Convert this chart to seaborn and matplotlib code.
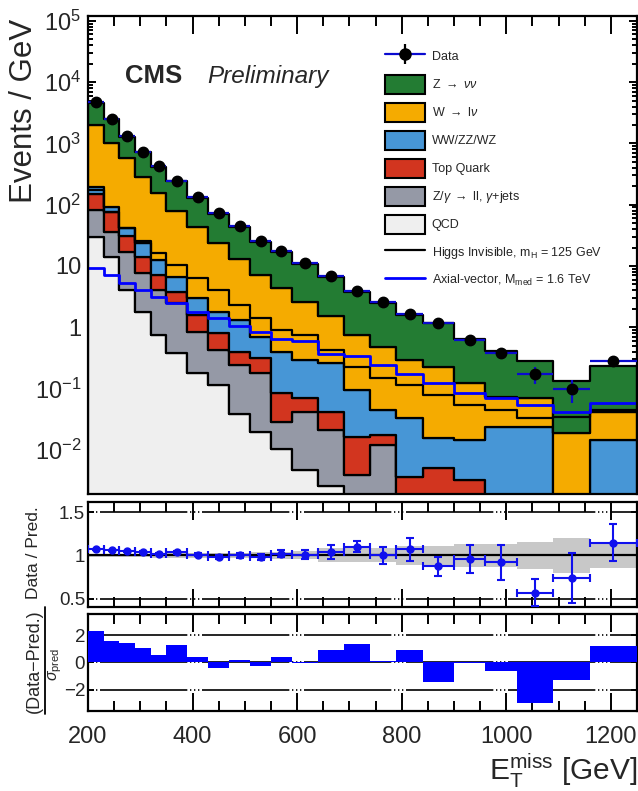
import matplotlib
matplotlib.use("Agg")
import matplotlib.pyplot as plt
import matplotlib.ticker as mticker
from matplotlib.patches import Patch
from matplotlib.lines import Line2D
from matplotlib.legend_handler import HandlerTuple
import numpy as np
import pandas as pd
import seaborn as sns

sns.set_theme(style="ticks")
plt.rcParams['font.family'] = ['Liberation Sans', 'DejaVu Sans']
plt.rcParams['mathtext.fontset'] = 'custom'
plt.rcParams['mathtext.rm'] = 'Liberation Sans'
plt.rcParams['mathtext.it'] = 'Liberation Sans:italic'
plt.rcParams['mathtext.bf'] = 'Liberation Sans:bold'
plt.rcParams['mathtext.sf'] = 'Liberation Sans'

# ---------------- data ----------------
bin_edges = [200, 230, 260, 290, 320, 350, 390, 430, 470, 510, 550, 590,
             640, 690, 740, 790, 840, 900, 960, 1020, 1090, 1160, 1250]

data_obs = [4770, 2465, 1315, 730, 426, 245, 135, 73.8, 45.3, 25.5, 17.7, 11.0,
            6.84, 3.94, 2.55, 1.62, 1.16, 0.618, 0.384, 0.173, 0.098, 0.284]
data_err = [30, 20, 12, 8, 5, 3.5, 2.2, 1.5, 1.1, 0.8, 0.6, 0.45,
            0.33, 0.25, 0.2, 0.16, 0.13, 0.09, 0.075, 0.055, 0.04, 0.055]

z_nunu = [2550, 1478, 716, 439, 255, 164, 84.4, 48.2, 30.3, 17.9, 12.9, 8.1,
          5.07, 3.07, 2.0, 1.32, 0.948, 0.521, 0.343, 0.214, 0.113, 0.193]
w_lnu = [1796, 921, 533, 258, 142, 72, 40.6, 21.6, 11.5, 6.4, 3.91, 2.29,
         1.26, 0.65, 0.436, 0.259, 0.207, 0.107, 0.0497, 0.046, 0.0176, 0.0273]
dibosons = [45, 15.7, 10.8, 9.6, 5.4, 2.88, 1.38, 1.0, 0.91, 0.39, 0.31, 0.223,
            0.216, 0.078, 0.0272, 0.029, 0.0104, 0.0114, 0.0238, 0.0238, 0.001, 0.0146]
top_quark = [67, 40, 13.8, 6.35, 3.05, 1.34, 0.74, 0.37, 0.157, 0.134, 0.056, 0.0273,
             0.0208, 0.0125, 0.0054, 0.0036, 0.005, 0.0032, 0.0, 0.0, 0.0, 0.0]
z_ll_gjets = [52, 21.7, 12.85, 5.88, 3.3, 2.08, 0.67, 0.31, 0.203, 0.157, 0.0185, 0.0372,
              0.0185, 0.0039, 0.012, 0.0, 0.0, 0.0, 0.0, 0.0, 0.0, 0.0]
qcd = [29.6, 14.1, 4.05, 1.77, 0.746, 0.375, 0.177, 0.114, 0.0384, 0.0197, 0.0102, 0.0047,
       0.0026, 0.0, 0.0, 0.0, 0.0, 0.0, 0.0, 0.0, 0.0, 0.0]

higgs_inv = [173, 75.7, 41.5, 25.5, 16.2, 10.3, 6.35, 4.05, 2.30, 1.41, 0.90, 0.746,
             0.425, 0.224, 0.148, 0.114, 0.0783, 0.0538, 0.0446, 0.033, 0.0347, 0.0446]
axial_vec = [9.14, 7.11, 5.33, 4.05, 3.15, 2.45, 1.79, 1.40, 1.05, 0.845, 0.635, 0.603,
             0.366, 0.339, 0.242, 0.172, 0.122, 0.0835, 0.0692, 0.0538, 0.0419, 0.0586]

ratio = [1.069, 1.058, 1.046, 1.038, 1.018, 1.038, 1.007, 0.98, 1.0, 0.98, 1.018, 1.007,
         1.04, 1.10, 1.0, 1.07, 0.876, 0.96, 0.92, 0.57, 0.74, 1.145]
ratio_err = [0.008, 0.008, 0.01, 0.012, 0.015, 0.017, 0.02, 0.025, 0.03, 0.035, 0.04, 0.05,
             0.077, 0.065, 0.096, 0.13, 0.11, 0.16, 0.2, 0.16, 0.285, 0.215]
ratio_band = [0.02, 0.02, 0.02, 0.02, 0.025, 0.025, 0.025, 0.03, 0.03, 0.035, 0.04, 0.045,
              0.08, 0.08, 0.08, 0.11, 0.11, 0.135, 0.135, 0.16, 0.2, 0.15]
pull = [2.3, 1.6, 1.43, 1.06, 0.57, 1.25, 0.37, -0.41, 0.2, -0.24, 0.37, -0.05,
        0.88, 1.37, 0.1, 0.88, -1.47, -0.05, -0.66, -2.99, -1.32, 1.23]

log_ticks = [1e-2, 1e-1, 1, 10, 1e2, 1e3, 1e4, 1e5]
log_tick_labels = [r"$10^{-2}$", r"$10^{-1}$", "1", "10", r"$10^{2}$", r"$10^{3}$",
                   r"$10^{4}$", r"$10^{5}$"]

proc_names = [r"Z $\rightarrow$ $\nu\nu$", r"W $\rightarrow$ l$\nu$", "WW/ZZ/WZ",
              "Top Quark", r"Z/$\gamma$ $\rightarrow$ ll, $\gamma$+jets", "QCD"]
proc_vals = [z_nunu, w_lnu, dibosons, top_quark, z_ll_gjets, qcd]
proc_colors = ["#237c33", "#f5ab00", "#4796d6", "#d2351f", "#9599a6", "#efefef"]

# ---------------- figure ----------------
W, H = 638, 791
fig = plt.figure(figsize=(W / 100, H / 100), dpi=100)
L, R = 88, 637
ax = fig.add_axes([L / W, 1 - 494 / H, (R - L) / W, (494 - 16) / H])
axr = fig.add_axes([L / W, 1 - 607.3 / H, (R - L) / W, (607.3 - 501.7) / H])
axp = fig.add_axes([L / W, 1 - 710.7 / H, (R - L) / W, (710.7 - 614) / H])

edges = np.array(bin_edges, dtype=float)
centers = 0.5 * (edges[1:] + edges[:-1])
half = 0.5 * np.diff(edges)

rows = []
for name, vals in zip(proc_names, proc_vals):
    for c, v in zip(centers, vals):
        rows.append((c, v, name))
df = pd.DataFrame(rows, columns=["met", "w", "proc"])

ax.set_yscale("log")
sns.histplot(data=df, x="met", weights="w", hue="proc", hue_order=proc_names,
             bins=bin_edges, multiple="stack", element="step",
             palette=dict(zip(proc_names, proc_colors)), alpha=1,
             edgecolor="black", linewidth=1.6, legend=False, ax=ax)

sns.histplot(x=centers, weights=higgs_inv, bins=bin_edges, element="step",
             fill=False, color="black", linewidth=1.6, ax=ax)
sns.histplot(x=centers, weights=axial_vec, bins=bin_edges, element="step",
             fill=False, color="#0000ff", linewidth=2.0, ax=ax)

ax.errorbar(centers, data_obs, xerr=half, yerr=data_err, fmt="o",
            color="black", ms=7.5, ecolor="#0a0ad0", elinewidth=1.6,
            capsize=0, zorder=10)

ax.set_xlim(200, 1250)
ax.set_ylim(1.9e-3, 1.2e5)
ax.set_xlabel("")
ax.set_ylabel("")
ax.yaxis.set_major_locator(mticker.FixedLocator(log_ticks))
ax.yaxis.set_major_formatter(mticker.FixedFormatter(log_tick_labels))
ax.yaxis.set_minor_locator(mticker.FixedLocator(
    [m * 10.0 ** e for e in range(-3, 5) for m in range(2, 10) if 1.9e-3 < m * 10.0 ** e < 1.2e5]))
ax.yaxis.set_minor_formatter(mticker.NullFormatter())

dd = (0, (0.8, 1.6, 0.8, 1.6, 0.8, 1.6, 52.4, 1.6))

# ratio panel
band = np.array(ratio_band)
axr.fill_between(edges, np.append(1 - band, 1 - band[-1]), np.append(1 + band, 1 + band[-1]),
                 step="post", color="#c8c8c8", lw=0, zorder=1)
axr.axhline(1, color="black", lw=1.6, zorder=2)
for yv in (0.5, 1.5):
    axr.axhline(yv, color="black", lw=1.2, ls=dd, zorder=2)
axr.errorbar(centers, ratio, xerr=half, yerr=ratio_err, fmt="o", color="#1010ee",
             ms=5, capsize=3, elinewidth=1.5, capthick=1.5, zorder=5)
axr.set_xlim(200, 1250)
axr.set_ylim(0.4, 1.62)
axr.yaxis.set_major_locator(mticker.FixedLocator([0.5, 1, 1.5]))
axr.yaxis.set_major_formatter(mticker.FixedFormatter(["0.5", "1", "1.5"]))

# pull panel
axp.bar(edges[:-1], pull, width=np.diff(edges), align="edge", color="#0000ff", lw=0, zorder=3)
for yv in (-2, 0, 2):
    axp.axhline(yv, color="black", lw=1.2, ls=dd, zorder=2)
axp.set_xlim(200, 1250)
axp.set_ylim(-3.55, 3.55)
axp.yaxis.set_major_locator(mticker.FixedLocator([-2, 0, 2]))
axp.yaxis.set_major_formatter(mticker.FixedFormatter(["\u22122", "0", "2"]))

for a in (ax, axr, axp):
    for s in a.spines.values():
        s.set_linewidth(1.6)
        s.set_color("black")
    a.xaxis.set_major_locator(mticker.FixedLocator([200, 400, 600, 800, 1000, 1200]))
    a.xaxis.set_minor_locator(mticker.FixedLocator([x for x in range(250, 1250, 50) if x % 200]))
    a.tick_params(which="both", direction="in", top=True, right=True,
                  width=1.4, color="black")
    a.xaxis.set_tick_params(which="major", length=13)
    a.xaxis.set_tick_params(which="minor", length=7)
    a.set_facecolor("white")

ax.yaxis.set_tick_params(which="major", length=6)
ax.yaxis.set_tick_params(which="minor", length=3.5)
ax.tick_params(axis="y", labelsize=17, pad=5)
ax.tick_params(axis="x", labelbottom=False)
axr.yaxis.set_tick_params(which="major", length=4)
axr.tick_params(axis="y", labelsize=13.5, pad=2)
axr.tick_params(axis="x", labelbottom=False)
axp.yaxis.set_tick_params(which="major", length=4)
axp.tick_params(axis="y", labelsize=13.5, pad=2)
axp.tick_params(axis="x", labelsize=17, pad=11)

# labels
fig.text(24 / W, 1 - 19 / H, "Events / GeV", rotation=90, ha="center", va="top", fontsize=22.5)
fig.text(34 / W, 1 - 553 / H, "Data / Pred.", rotation=90, ha="center", va="center", fontsize=12.5)
fig.text(34 / W, 1 - 661 / H, "(Data\u2212Pred.)", rotation=90, ha="center", va="center", fontsize=13)
fig.add_artist(Line2D([45 / W, 45 / W], [1 - 714 / H, 1 - 607 / H], transform=fig.transFigure,
                      color="black", lw=1.3))
fig.text(55 / W, 1 - 664 / H, r"$\sigma_{\mathrm{pred}}$", rotation=90, ha="center", va="center",
         fontsize=11.5)
fig.text(637 / W, 1 - 771 / H, r"E$_{\mathrm{T}}^{\mathrm{miss}}$ [GeV]", ha="right",
         va="center", fontsize=21.5)

fig.text(125 / W, 1 - 76 / H, "CMS", fontsize=18.5, fontweight="bold", ha="left", va="center")
fig.text(207 / W, 1 - 76 / H, "Preliminary", fontsize=17.5, fontstyle="italic", ha="left", va="center")

# legend
data_handle = (Line2D([], [], color="#0a0ad0", lw=1.6),
               Line2D([], [], color="black", marker="|", ms=15, mew=1.6, ls="none"),
               Line2D([], [], color="black", marker="o", ms=8, ls="none"))
handles = [data_handle] + [Patch(facecolor=c, edgecolor="black", lw=1.5) for c in proc_colors] + [
    Line2D([], [], color="black", lw=1.6), Line2D([], [], color="#0000ff", lw=2)]
labels = ["Data"] + proc_names + [r"Higgs Invisible, m$_{\mathrm{H}}$ = 125 GeV",
                                  r"Axial-vector, M$_{\mathrm{med}}$ = 1.6 TeV"]
ax.legend(handles, labels, loc="upper left", bbox_to_anchor=(385 / W, 1 - 47 / H),
          bbox_transform=fig.transFigure, frameon=False, fontsize=9,
          handlelength=3.2, handleheight=1.96, labelspacing=0.72, handletextpad=0.55,
          borderpad=0, borderaxespad=0,
          handler_map={tuple: HandlerTuple(ndivide=1, pad=0)})

fig.savefig("out.png", dpi=100)
